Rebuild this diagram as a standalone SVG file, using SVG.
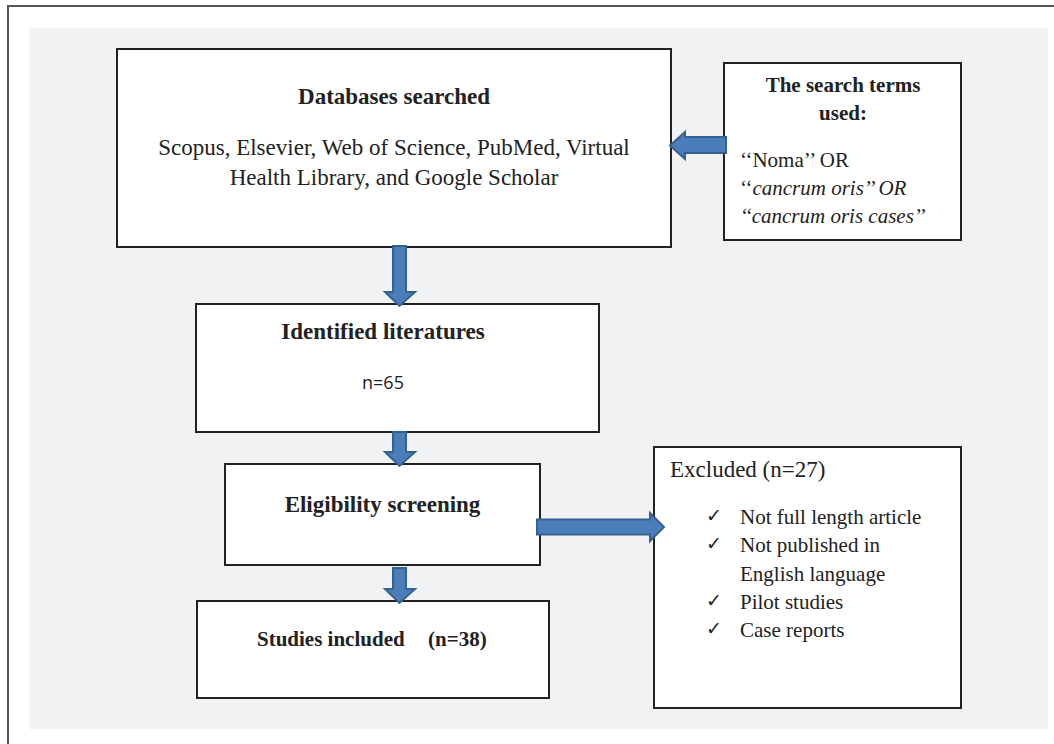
<svg xmlns="http://www.w3.org/2000/svg" width="1054" height="744" viewBox="0 0 1054 744">
<style>
.box{fill:#ffffff;stroke:#222222;stroke-width:2}
.arr{fill:#4a7ebb;stroke:#36618f;stroke-width:2;stroke-linejoin:miter}
.t{font-family:"Liberation Serif","Times New Roman",serif;fill:#222222}
.b{font-weight:bold}
.c{text-anchor:middle}
.s{font-family:"Open Sans","Liberation Sans",sans-serif;fill:#222222}
.chk{font-family:"DejaVu Sans",sans-serif;fill:#222222;font-size:19px}
</style>
<rect x="0" y="0" width="1054" height="744" fill="#ffffff"/>
<rect x="8" y="6" width="1100" height="800" fill="#ffffff" stroke="#555555" stroke-width="2"/>
<rect x="29" y="28" width="1019" height="701" fill="#f1f2f4"/>

<g id="databases">
<rect class="box" x="117" y="49" width="554" height="198"/>
<text class="t b c" x="394" y="104" font-size="23">Databases searched</text>
<text class="t c" x="394" y="155" font-size="23">Scopus, Elsevier, Web of Science, PubMed, Virtual</text>
<text class="t c" x="394" y="185" font-size="23">Health Library, and Google Scholar</text>
</g>

<g id="search-terms">
<rect class="box" x="724" y="63" width="237" height="177"/>
<text class="t b c" x="843" y="92" font-size="21">The search terms</text>
<text class="t b c" x="843" y="120" font-size="21">used:</text>
<text class="t" x="740" y="167" font-size="21">‘‘Noma’’ OR</text>
<text class="t" x="740" y="195" font-size="21">‘‘<tspan font-style="italic">cancrum oris’’ OR</tspan></text>
<text class="t" x="740" y="223" font-size="21" font-style="italic">‘‘cancrum oris cases’’</text>
</g>

<g id="identified">
<rect class="box" x="196" y="304" width="403" height="128"/>
<text class="t b c" x="383" y="339" font-size="23">Identified literatures</text>
<text class="s c" x="383" y="389" font-size="18">n=65</text>
</g>

<g id="eligibility">
<rect class="box" x="225" y="464" width="315" height="101"/>
<text class="t b c" x="382.5" y="512" font-size="23">Eligibility screening</text>
</g>

<g id="studies">
<rect class="box" x="197" y="601" width="352" height="97"/>
<text class="t b" y="646" font-size="21"><tspan x="257">Studies included</tspan><tspan x="428">(n=38)</tspan></text>
</g>

<g id="excluded">
<rect class="box" x="654" y="447" width="307" height="261"/>
<text class="t" x="670" y="477" font-size="23">Excluded (n=27)</text>
<text class="chk" x="706" y="522">✓</text>
<text class="t" x="740" y="524" font-size="21">Not full length article</text>
<text class="chk" x="706" y="550">✓</text>
<text class="t" x="740" y="552" font-size="21">Not published in</text>
<text class="t" x="740" y="581" font-size="21">English language</text>
<text class="chk" x="706" y="607">✓</text>
<text class="t" x="740" y="609" font-size="21">Pilot studies</text>
<text class="chk" x="706" y="635">✓</text>
<text class="t" x="740" y="637" font-size="21">Case reports</text>
</g>

<g id="connectors">
<polygon class="arr" points="393,246 406,246 406,292 415,292 399.5,306 385,292 393,292"/>
<polygon class="arr" points="393,432 406,432 406,452 415,452 399.5,466 385,452 393,452"/>
<polygon class="arr" points="393,568 406,568 406,589 415,589 399.5,603 385,589 393,589"/>
<polygon class="arr" points="726,137 726,153 685,153 685,159 670,145.5 685,132 685,137"/>
<polygon class="arr" points="537,519.5 650,519.5 650,513 664,527 650,541 650,534.5 537,534.5"/>
</g>
</svg>
